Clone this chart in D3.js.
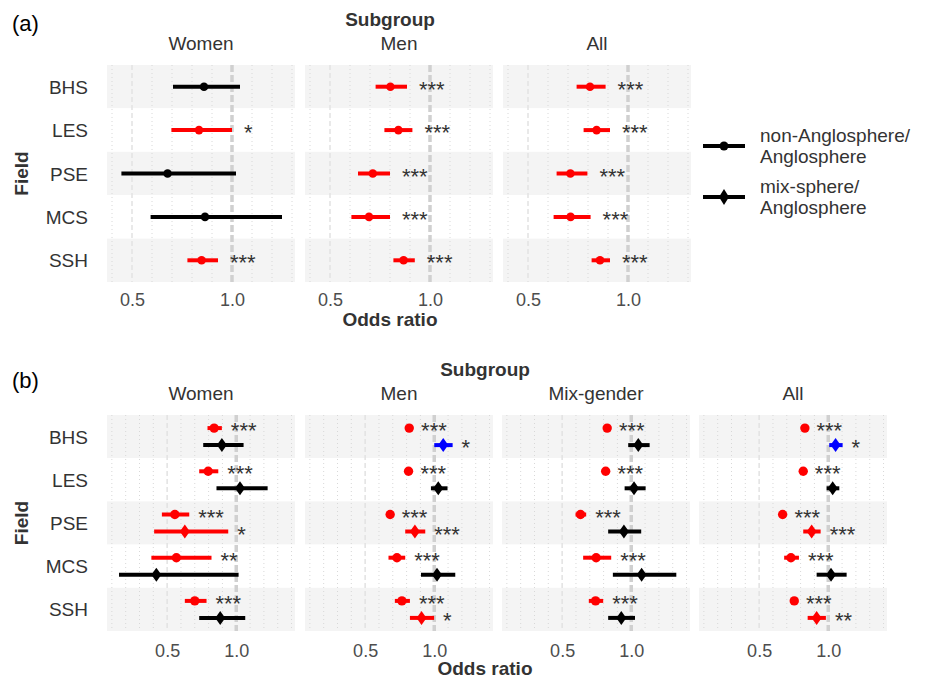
<!DOCTYPE html>
<html>
<head>
<meta charset="utf-8">
<script src="https://cdn.jsdelivr.net/npm/d3@7"></script>
<style>
  body { margin: 0; background: #fff; }
  text { font-family: "Liberation Sans", Arial, sans-serif; }
</style>
</head>
<body>
<svg id="chart"></svg>
<script>
// categories
const fields = ['BHS', 'LES', 'PSE', 'MCS', 'SSH'];
const groupsA = ['Women', 'Men', 'All'];
const groupsB = ['Women', 'Men', 'Mix-gender', 'All'];
const ticks = [0.5, 1.0];

// (a) non-Anglosphere / Anglosphere
const aWomenOr = [0.86, 0.835, 0.678, 0.865, 0.848];
const aWomenLo = [0.705, 0.697, 0.447, 0.593, 0.777];
const aWomenHi = [1.04, 1.0, 1.02, 1.25, 0.93];
const aWomenSig = ['', '*', '', '', '***'];
const aMenOr = [0.802, 0.842, 0.714, 0.695, 0.868];
const aMenLo = [0.728, 0.772, 0.64, 0.607, 0.817];
const aMenHi = [0.885, 0.912, 0.80, 0.80, 0.924];
const aMenSig = ['***', '***', '***', '***', '***'];
const aAllOr = [0.81, 0.843, 0.712, 0.713, 0.86];
const aAllLo = [0.743, 0.778, 0.643, 0.628, 0.818];
const aAllHi = [0.888, 0.91, 0.797, 0.813, 0.91];
const aAllSig = ['***', '***', '***', '***', '***'];

// (b) non-Anglosphere / Anglosphere (circles)
const bNonWomenOr = [0.84, 0.797, 0.556, 0.567, 0.70];
const bNonWomenLo = [0.792, 0.732, 0.462, 0.386, 0.628];
const bNonWomenHi = [0.896, 0.87, 0.66, 0.821, 0.785];
const bNonWomenSig = ['***', '***', '***', '**', '***'];
const bNonMenOr = [0.819, 0.814, 0.681, 0.73, 0.766];
const bNonMenLo = [0.80, 0.795, 0.665, 0.669, 0.715];
const bNonMenHi = [0.84, 0.835, 0.70, 0.79, 0.824];
const bNonMenSig = ['***', '***', '***', '***', '***'];
const bNonMixOr = [0.826, 0.815, 0.633, 0.746, 0.742];
const bNonMixLo = [0.806, 0.795, 0.597, 0.652, 0.693];
const bNonMixHi = [0.846, 0.835, 0.674, 0.855, 0.797];
const bNonMixSig = ['***', '***', '***', '***', '***'];
const bNonAllOr = [0.831, 0.819, 0.67, 0.73, 0.754];
const bNonAllLo = [0.813, 0.801, 0.652, 0.681, 0.735];
const bNonAllHi = [0.85, 0.838, 0.69, 0.788, 0.774];
const bNonAllSig = ['***', '***', '***', '***', '***'];

// (b) mix-sphere / Anglosphere (diamonds)
const bMixWomenOr = [0.896, 1.027, 0.628, 0.422, 0.884];
const bMixWomenLo = [0.761, 0.857, 0.406, 0.152, 0.732];
const bMixWomenHi = [1.053, 1.227, 0.942, 1.017, 1.065];
const bMixWomenSig = ['', '', '*', '', ''];
const bMixMenOr = [1.065, 1.029, 0.86, 1.02, 0.908];
const bMixMenLo = [1.0, 0.976, 0.79, 0.904, 0.824];
const bMixMenHi = [1.133, 1.096, 0.935, 1.152, 0.999];
const bMixMenSig = ['*', '', '***', '', '*'];
const bMixMixOr = [1.051, 1.02, 0.947, 1.075, 0.928];
const bMixMixLo = [0.978, 0.952, 0.833, 0.867, 0.833];
const bMixMixHi = [1.133, 1.104, 1.072, 1.326, 1.027];
const bMixMixSig = ['', '', '', '', ''];
const bMixAllOr = [1.053, 1.032, 0.88, 1.02, 0.916];
const bMixAllLo = [1.007, 0.988, 0.819, 0.916, 0.851];
const bMixAllHi = [1.104, 1.08, 0.945, 1.133, 0.983];
const bMixAllSig = ['*', '', '***', '', '**'];

function rows(or, lo, hi, sig, shape) {
    return fields.map((f, i) => ({ field: f, or: or[i], lo: lo[i], hi: hi[i], sig: sig[i], shape: shape }));
}

const panelA = [
    rows(aWomenOr, aWomenLo, aWomenHi, aWomenSig, 'circle'),
    rows(aMenOr, aMenLo, aMenHi, aMenSig, 'circle'),
    rows(aAllOr, aAllLo, aAllHi, aAllSig, 'circle')
];
const panelB = [
    rows(bNonWomenOr, bNonWomenLo, bNonWomenHi, bNonWomenSig, 'circle').concat(rows(bMixWomenOr, bMixWomenLo, bMixWomenHi, bMixWomenSig, 'diamond')),
    rows(bNonMenOr, bNonMenLo, bNonMenHi, bNonMenSig, 'circle').concat(rows(bMixMenOr, bMixMenLo, bMixMenHi, bMixMenSig, 'diamond')),
    rows(bNonMixOr, bNonMixLo, bNonMixHi, bNonMixSig, 'circle').concat(rows(bMixMixOr, bMixMixLo, bMixMixHi, bMixMixSig, 'diamond')),
    rows(bNonAllOr, bNonAllLo, bNonAllHi, bNonAllSig, 'circle').concat(rows(bMixAllOr, bMixAllLo, bMixAllHi, bMixAllSig, 'diamond'))
];

const width = 930;
const height = 678;
const svg = d3.select('#chart').attr('width', width).attr('height', height);

function colour(d) {
    if (d.sig === '') return '#000';
    return d.or < 1 ? '#ff0000' : '#0000ff';
}

function diamondPath(w, h) {
    return `M0,${-h}L${w},0L0,${h}L${-w},0Z`;
}

function drawPanel(opt) {
    const g = svg.append('g');
    const y = d3.scaleBand().domain(fields).range([opt.top, opt.bottom]).padding(0);

    // label (a)/(b)
    g.append('text').attr('x', 12).attr('y', opt.tagY)
        .style('font-size', '22px').style('fill', '#000').text(opt.tag);

    g.append('text').attr('x', opt.titleX).attr('y', opt.subY)
        .attr('text-anchor', 'middle').style('font-size', '19px').style('font-weight', 'bold')
        .style('fill', '#333').text('Subgroup');

    g.append('text').attr('x', opt.titleX).attr('y', opt.oddsY)
        .attr('text-anchor', 'middle').style('font-size', '19px').style('font-weight', 'bold')
        .style('fill', '#333').text('Odds ratio');

    g.append('text')
        .attr('transform', `translate(28,${(opt.top + opt.bottom) / 2}) rotate(-90)`)
        .attr('text-anchor', 'middle').style('font-size', '19px').style('font-weight', 'bold')
        .style('fill', '#333').text('Field');

    // y axis labels
    g.selectAll('.ylab').data(fields).enter().append('text')
        .attr('x', 88).attr('y', d => y(d) + y.bandwidth() / 2 + 7)
        .attr('text-anchor', 'end').style('font-size', '19px').style('fill', '#333')
        .text(d => d);

    opt.groups.forEach((grp, k) => {
        const x0 = opt.x0[k];
        const x = d3.scaleLinear().domain(opt.domain).range([x0, x0 + opt.pw]);
        const fg = g.append('g');

        // strip
        fg.append('text').attr('x', x0 + opt.pw / 2).attr('y', opt.stripY)
            .attr('text-anchor', 'middle').style('font-size', '19px').style('fill', '#333').text(grp);

        // row backgrounds
        fg.selectAll('.bg').data(fields).enter().append('rect')
            .attr('x', x0).attr('width', opt.pw)
            .attr('y', d => y(d)).attr('height', y.bandwidth())
            .attr('fill', (d, i) => i % 2 === 0 ? '#f4f4f4' : '#fff');

        // minor grid every 0.1
        const minor = d3.range(1, 15).map(v => v / 10)
            .filter(v => v > opt.domain[0] && v < opt.domain[1] && Math.abs(v - 0.5) > 1e-6 && Math.abs(v - 1) > 1e-6);
        fg.selectAll('.minor').data(minor).enter().append('line')
            .attr('x1', d => x(d)).attr('x2', d => x(d))
            .attr('y1', opt.top).attr('y2', opt.bottom)
            .attr('stroke', '#d8d8d8').attr('stroke-width', 1).attr('stroke-dasharray', '1,3');

        fg.append('line').attr('x1', x(0.5)).attr('x2', x(0.5))
            .attr('y1', opt.top).attr('y2', opt.bottom)
            .attr('stroke', '#e2e2e2').attr('stroke-width', 1.5).attr('stroke-dasharray', '5,3');
        fg.append('line').attr('x1', x(1)).attr('x2', x(1))
            .attr('y1', opt.top).attr('y2', opt.bottom)
            .attr('stroke', '#d0d0d0').attr('stroke-width', 3.5).attr('stroke-dasharray', '7,3');

        // x axis tick labels
        const axis = d3.axisBottom(x).tickValues(ticks).tickFormat(d3.format('.1f')).tickSize(0);
        const ax = fg.append('g').attr('transform', `translate(0,${opt.bottom})`).call(axis);
        ax.select('.domain').remove();
        ax.selectAll('text').attr('dy', null).attr('y', opt.tickY - opt.bottom)
            .style('font-size', '18px').style('fill', '#4d4d4d')
            .style('font-family', '"Liberation Sans", Arial, sans-serif');

        const data = opt.data[k];
        const yPos = d => y(d.field) + y.bandwidth() / 2 + (d.shape === 'circle' ? opt.dodge[0] : opt.dodge[1]);

        fg.selectAll('.ci').data(data).enter().append('line')
            .attr('x1', d => x(d.lo)).attr('x2', d => x(d.hi))
            .attr('y1', yPos).attr('y2', yPos)
            .attr('stroke', colour).attr('stroke-width', 4);

        fg.selectAll('.pt').data(data.filter(d => d.shape === 'circle')).enter().append('circle')
            .attr('cx', d => x(d.or)).attr('cy', yPos).attr('r', opt.r)
            .attr('fill', colour);

        fg.selectAll('.dm').data(data.filter(d => d.shape === 'diamond')).enter().append('path')
            .attr('transform', d => `translate(${x(d.or)},${yPos(d)})`)
            .attr('d', diamondPath(5, 7)).attr('fill', colour);

        fg.selectAll('.sig').data(data.filter(d => d.sig !== '')).enter().append('text')
            .attr('x', d => x(d.hi + opt.labelOff)).attr('y', d => yPos(d) + 10)
            .style('font-size', '22px').style('fill', '#333').text(d => d.sig);
    });
}

drawPanel({
    tag: '(a)', tagY: 31, subY: 26, stripY: 50, oddsY: 326, tickY: 306, titleX: 390,
    top: 65, bottom: 282, groups: groupsA, x0: [107, 305, 503], pw: 188,
    domain: [0.375, 1.315], data: panelA, dodge: [0, 0], r: 4.3, labelOff: 0.06
});

drawPanel({
    tag: '(b)', tagY: 388, subY: 376, stripY: 400, oddsY: 675, tickY: 657, titleX: 485,
    top: 415, bottom: 631, groups: groupsB, x0: [107, 305, 502, 699], pw: 188,
    domain: [0.065, 1.425], data: panelB, dodge: [-8.5, 8.5], r: 4.7, labelOff: 0.065
});

// legend
const legend = [
    { lines: ['non-Anglosphere/', 'Anglosphere'], shape: 'circle', y: 146 },
    { lines: ['mix-sphere/', 'Anglosphere'], shape: 'diamond', y: 197 }
];
const lg = svg.append('g');
legend.forEach(item => {
    lg.append('line').attr('x1', 703).attr('x2', 745).attr('y1', item.y).attr('y2', item.y)
        .attr('stroke', '#000').attr('stroke-width', 4);
    if (item.shape === 'circle') {
        lg.append('circle').attr('cx', 724).attr('cy', item.y).attr('r', 4.5).attr('fill', '#000');
    } else {
        lg.append('path').attr('transform', `translate(724,${item.y})`).attr('d', diamondPath(5, 8)).attr('fill', '#000');
    }
    item.lines.forEach((t, i) => {
        lg.append('text').attr('x', 760).attr('y', item.y - 4 + i * 21)
            .style('font-size', '19px').style('fill', '#333').text(t);
    });
});
</script>
</body>
</html>
